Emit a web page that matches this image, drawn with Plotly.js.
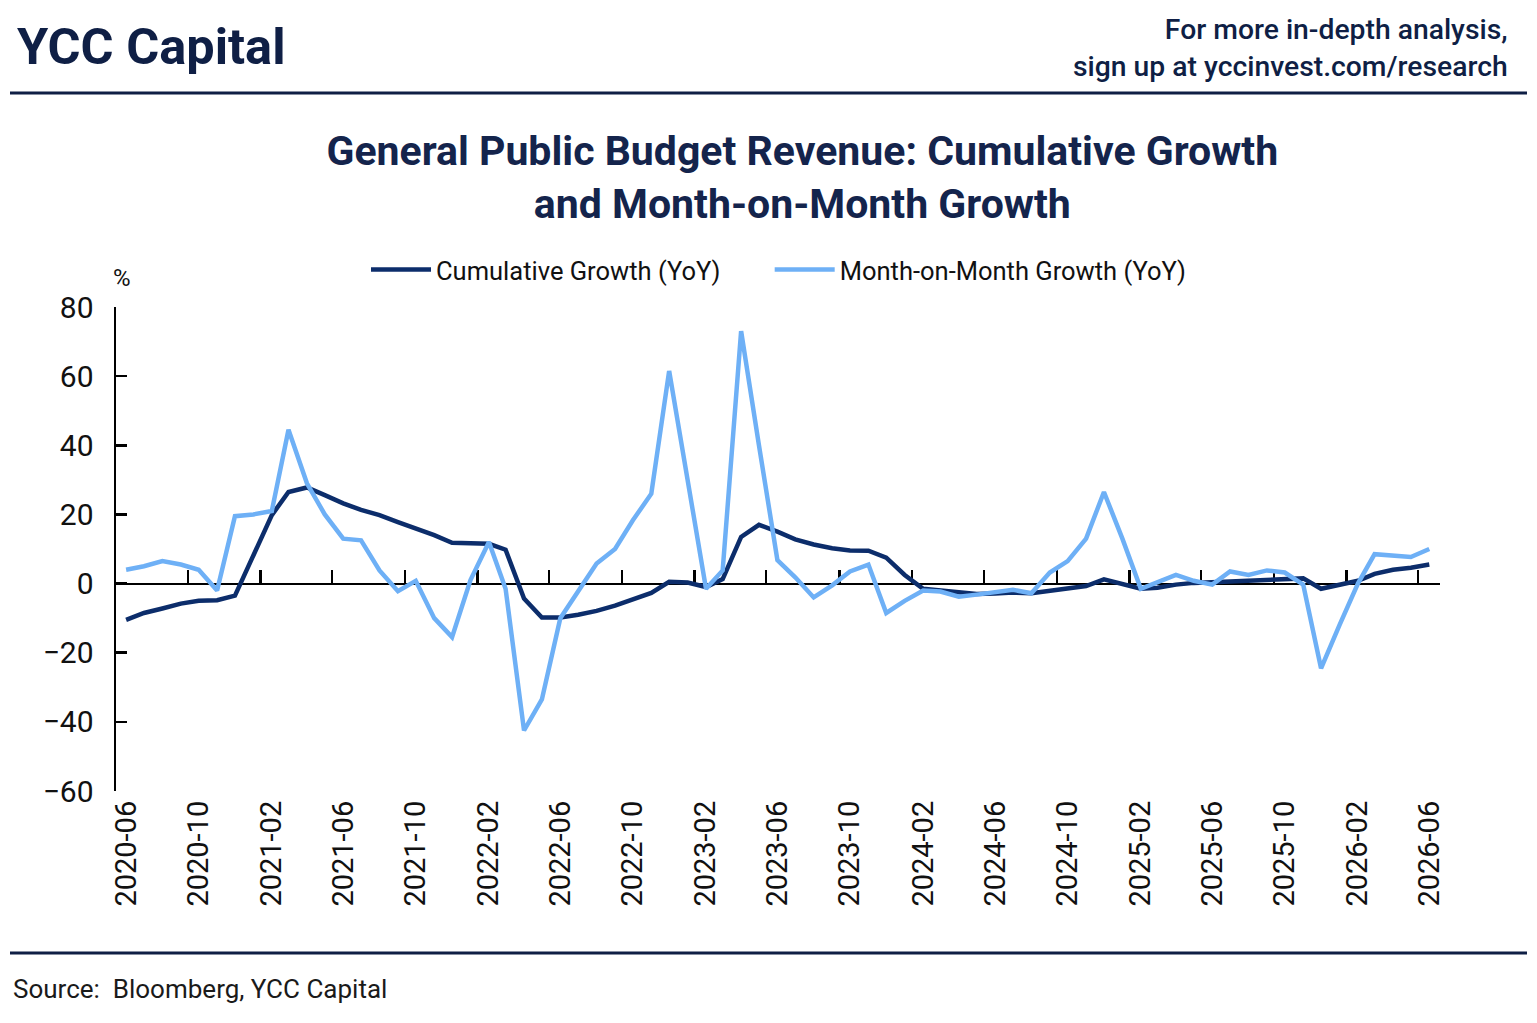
<!DOCTYPE html>
<html>
<head>
<meta charset="utf-8">
<script src="https://cdn.plot.ly/plotly-3.0.1.min.js"></script>
<style>
  html, body { margin: 0; padding: 0; background: #ffffff; }
  #chart { width: 1537px; height: 1023px; }
</style>
</head>
<body>
<div id="chart"></div>
<script>
// monthly observations, 2020-06 .. 2026-06
const months = [
  "2020-06-01","2020-07-01","2020-08-01","2020-09-01","2020-10-01","2020-11-01","2020-12-01",
  "2021-01-01","2021-02-01","2021-03-01","2021-04-01","2021-05-01","2021-06-01","2021-07-01",
  "2021-08-01","2021-09-01","2021-10-01","2021-11-01","2021-12-01","2022-01-01","2022-02-01",
  "2022-03-01","2022-04-01","2022-05-01","2022-06-01","2022-07-01","2022-08-01","2022-09-01",
  "2022-10-01","2022-11-01","2022-12-01","2023-01-01","2023-02-01","2023-03-01","2023-04-01",
  "2023-05-01","2023-06-01","2023-07-01","2023-08-01","2023-09-01","2023-10-01","2023-11-01",
  "2023-12-01","2024-01-01","2024-02-01","2024-03-01","2024-04-01","2024-05-01","2024-06-01",
  "2024-07-01","2024-08-01","2024-09-01","2024-10-01","2024-11-01","2024-12-01","2025-01-01",
  "2025-02-01","2025-03-01","2025-04-01","2025-05-01","2025-06-01","2025-07-01","2025-08-01",
  "2025-09-01","2025-10-01","2025-11-01","2025-12-01","2026-01-01","2026-02-01","2026-03-01",
  "2026-04-01","2026-05-01","2026-06-01"
];

const cumulativeGrowth = [
  -10.5, -8.5, -7.2, -5.8, -5.0, -4.8, -3.5,
  8.0, 19.8, 26.5, 27.8, 25.6, 23.2, 21.3,
  19.8, 17.8, 16.0, 14.0, 11.8, 11.5, 11.5,
  9.8, -4.3, -9.8, -9.8, -9.0, -7.9, -6.4,
  -4.5, -2.7, 0.5, 0.3, -1.0, 1.3, 13.5,
  17.0, 15.0, 12.8, 11.3, 10.2, 9.6, 9.5,
  7.5, 2.5, -1.5, -2.0, -2.6, -3.0, -2.9,
  -2.6, -2.8, -2.1, -1.4, -0.7, 1.2, 0.0,
  -1.5, -1.2, -0.3, 0.2, 0.4, 0.8, 1.0,
  1.2, 1.3, 1.5, -1.5, -0.5, 0.8, 2.8,
  4.0, 4.6, 5.5
];

const momGrowth = [
  4.0, 5.0, 6.5, 5.5, 4.0, -2.0, 19.5,
  20.0, 21.0, 44.5, 29.0, 20.0, 13.0, 12.5,
  3.8, -2.2, 0.8, -10.0, -15.5, 1.0, 12.0,
  -1.5, -42.5, -33.5, -10.0, -2.5, 5.8, 10.0,
  18.3, 26.0, 61.5, 30.0, -1.5, 3.8, 73.0,
  40.0, 6.8, 1.8, -4.0, -0.5, 3.5, 5.5,
  -8.5, -5.0, -2.0, -2.3, -3.8, -3.2, -2.5,
  -1.8, -2.8, 3.2, 6.5, 13.0, 26.5, 13.0,
  -1.5, 0.3, 2.5, 0.8, -0.3, 3.5, 2.5,
  3.8, 3.2, -0.3, -24.5, -12.0, 0.0, 8.5,
  8.0, 7.7, 10.0
];

const tickDates = [
  "2020-06-01","2020-10-01","2021-02-01","2021-06-01","2021-10-01","2022-02-01","2022-06-01",
  "2022-10-01","2023-02-01","2023-06-01","2023-10-01","2024-02-01","2024-06-01","2024-10-01",
  "2025-02-01","2025-06-01","2025-10-01","2026-02-01","2026-06-01"
];
const tickLabels = [
  "2020-06","2020-10","2021-02","2021-06","2021-10","2022-02","2022-06",
  "2022-10","2023-02","2023-06","2023-10","2024-02","2024-06","2024-10",
  "2025-02","2025-06","2025-10","2026-02","2026-06"
];
// small marks drawn on the zero line
const zeroLineTicks = [
  "2020-09-13","2021-01-13","2021-05-13","2021-09-13","2022-01-13","2022-05-13",
  "2022-09-13","2023-01-13","2023-05-13","2023-09-13","2024-01-13","2024-05-13",
  "2024-09-13","2025-01-13","2025-05-13","2025-09-13","2026-01-13","2026-05-13"
];

const W = 1537, H = 1023;
const M = { l: 116, r: 97, t: 307, b: 232 };
const xRange = ["2020-05-15", "2026-06-19"];
const yRange = [-60, 80];

// pixel -> paper helpers for header / footer items
function px(x) { return (x - M.l) / (W - M.l - M.r); }
function py(y) { return (H - M.b - y) / (H - M.t - M.b); }

const navy = "#0c2d6b";
const light = "#6eb0f6";
const ink = "#0f1f45";
const gap = "\u00a0".repeat(7); // room between the two legend entries

const traces = [
  {
    x: months,
    y: cumulativeGrowth,
    type: "scatter",
    mode: "lines",
    name: "Cumulative Growth (YoY)" + gap,
    line: { color: navy, width: 4.5 }
  },
  {
    x: months,
    y: momGrowth,
    type: "scatter",
    mode: "lines",
    name: "Month-on-Month Growth (YoY)",
    xaxis: "x2",
    line: { color: light, width: 4.5 }
  }
];

const layout = {
  width: W,
  height: H,
  margin: M,
  paper_bgcolor: "#ffffff",
  plot_bgcolor: "#ffffff",
  font: { family: "Roboto, 'Liberation Sans', sans-serif", color: "#111111" },
  showlegend: true,
  title: {
    text: "General Public Budget Revenue: Cumulative Growth<br>and Month-on-Month Growth",
    font: { family: "Roboto, sans-serif", size: 41, color: "#14244c", weight: 700 },
    x: 0.522,
    xref: "container",
    xanchor: "center",
    y: 1 - 165 / H,
    yref: "container",
    yanchor: "middle"
  },
  legend: {
    orientation: "h",
    x: px(366),
    xanchor: "left",
    y: py(270),
    yanchor: "middle",
    font: { size: 25.5, color: "#111111" },
    itemwidth: 60,
    bgcolor: "rgba(0,0,0,0)"
  },
  xaxis: {
    type: "date",
    range: xRange,
    showgrid: false,
    zeroline: false,
    showline: false,
    ticks: "",
    tickmode: "array",
    tickvals: tickDates,
    ticktext: tickLabels,
    tickangle: -90,
    tickfont: { size: 29, color: "#111111" },
    ticklabelstandoff: 3
  },
  xaxis2: {
    type: "date",
    range: xRange,
    overlaying: "x",
    anchor: "free",
    position: (0 - yRange[0]) / (yRange[1] - yRange[0]),
    side: "bottom",
    layer: "below traces",
    showgrid: false,
    zeroline: false,
    showline: true,
    linecolor: "#000000",
    linewidth: 2.5,
    ticks: "inside",
    ticklen: 13,
    tickwidth: 2.5,
    tickcolor: "#000000",
    tickmode: "array",
    tickvals: zeroLineTicks,
    showticklabels: false
  },
  yaxis: {
    range: yRange,
    showgrid: false,
    zeroline: false,
    showline: true,
    linecolor: "#000000",
    linewidth: 2.5,
    ticks: "inside",
    ticklen: 11,
    tickwidth: 2.5,
    tickcolor: "#000000",
    tickmode: "array",
    tickvals: [-60, -40, -20, 0, 20, 40, 60, 80],
    tickfont: { size: 30, color: "#111111" },
    ticklabelstandoff: 14
  },
  shapes: [
    { type: "line", xref: "paper", yref: "paper", x0: px(10), x1: px(1527), y0: py(93), y1: py(93),
      line: { color: ink, width: 3 } },
    { type: "line", xref: "paper", yref: "paper", x0: px(10), x1: px(1527), y0: py(953), y1: py(953),
      line: { color: ink, width: 3 } }
  ],
  annotations: [
    { text: "YCC Capital", xref: "paper", yref: "paper", x: px(15), y: py(46),
      xanchor: "left", yanchor: "middle", showarrow: false,
      font: { family: "Roboto, sans-serif", size: 50.5, color: ink, weight: 700 } },
    { text: "For more in-depth analysis,<br>sign up at yccinvest.com/research",
      xref: "paper", yref: "paper", x: px(1510), y: py(48), xanchor: "right", yanchor: "middle",
      align: "right", showarrow: false,
      font: { family: "Roboto, sans-serif", size: 28.3, color: ink, weight: 500 } },
    { text: "%", xref: "paper", yref: "paper", x: px(122), y: py(278),
      xanchor: "center", yanchor: "middle", showarrow: false,
      font: { size: 24, color: "#111111" } },
    { text: "Source:  Bloomberg, YCC Capital", xref: "paper", yref: "paper", x: px(11), y: py(989),
      xanchor: "left", yanchor: "middle", showarrow: false,
      font: { size: 26, color: "#1a1a1a" } }
  ]
};

Plotly.newPlot("chart", traces, layout, { displayModeBar: false, staticPlot: true });
</script>
</body>
</html>
